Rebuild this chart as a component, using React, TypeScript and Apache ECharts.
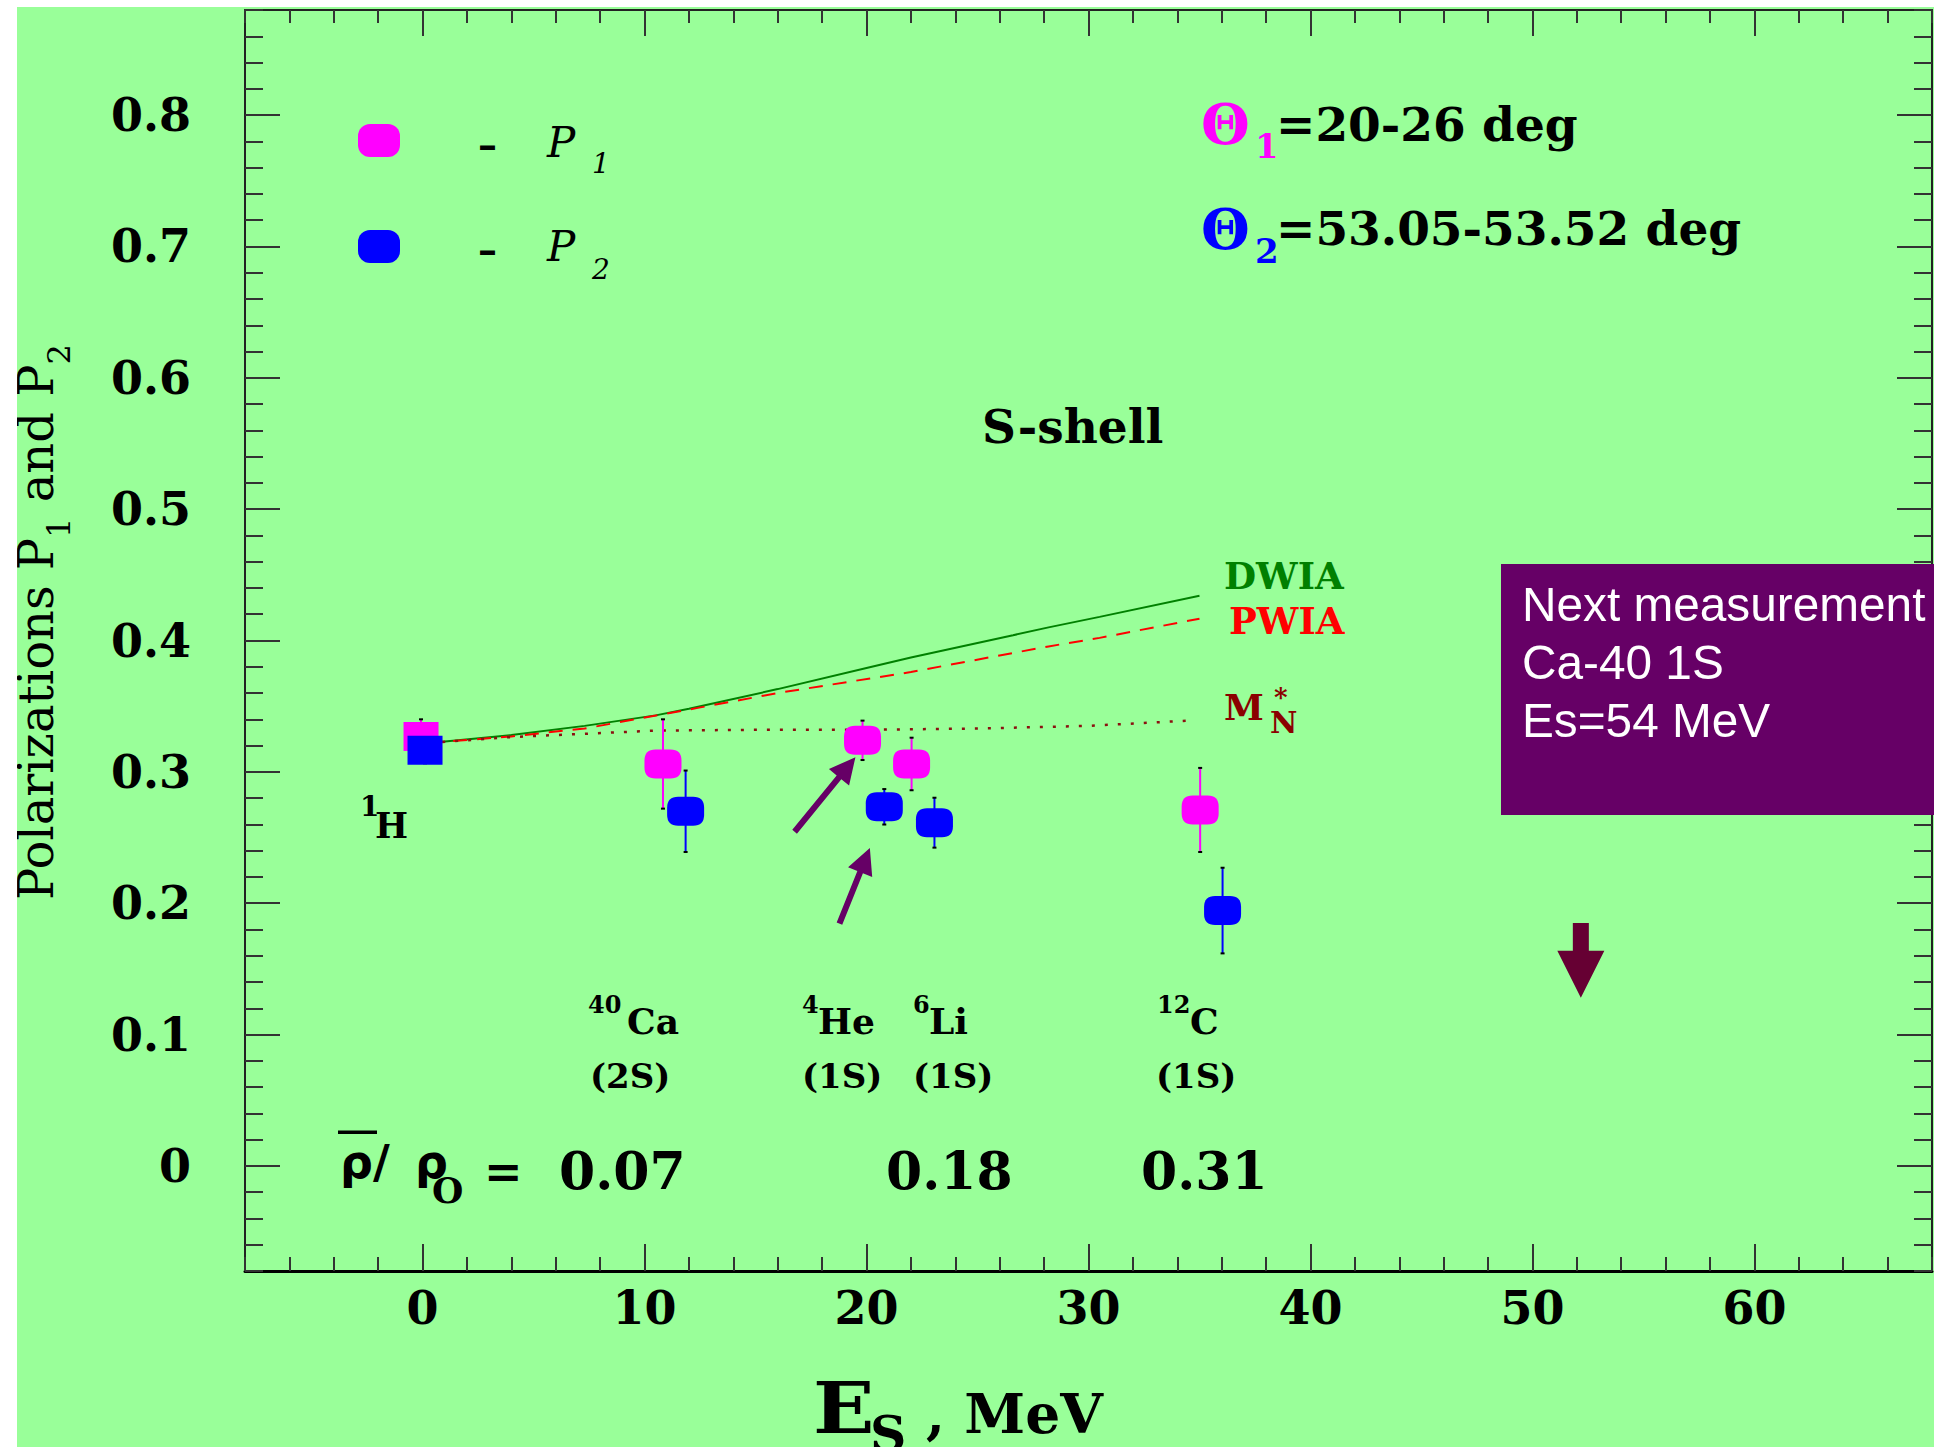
import React, { useEffect, useRef } from "react";
import * as echarts from "echarts";

// ---------- axis ranges and ticks ----------
const X_MIN = -8;
const X_MAX = 68;
const Y_MIN = -0.08;
const Y_MAX = 0.88;
const xMajorTicks = [0, 10, 20, 30, 40, 50, 60];
const yMajorTicks = [0, 0.1, 0.2, 0.3, 0.4, 0.5, 0.6, 0.7, 0.8];

// ---------- data: [Es, polarization, error] ----------
const hydrogenP1 = [[-0.07, 0.327, 0.013]];
const hydrogenP2 = [[0.11, 0.3165, 0.01]];
// 40Ca, 4He, 6Li, 12C
const nucleiP1 = [
  [10.83, 0.306, 0.034],
  [19.82, 0.324, 0.015],
  [22.03, 0.306, 0.02],
  [35.03, 0.271, 0.032],
];
const nucleiP2 = [
  [11.85, 0.27, 0.031],
  [20.8, 0.2734, 0.0135],
  [23.06, 0.2613, 0.019],
  [36.04, 0.1944, 0.0326],
];

// ---------- theory curves ----------
const dwia = [
  [0.3, 0.322], [4, 0.328], [7.3, 0.335], [10.5, 0.343], [12, 0.348], [16, 0.363],
  [20, 0.379], [22, 0.387], [26.6, 0.404], [28.2, 0.41], [30.5, 0.418], [35, 0.434],
];
const pwia = [
  [0.3, 0.322], [4, 0.327], [7.3, 0.333], [12.4, 0.3487], [16, 0.36], [22, 0.376],
  [26.6, 0.3905], [28.2, 0.3955], [30.5, 0.402], [35, 0.4166],
];
const mStar = [
  [0.3, 0.322], [4, 0.3265], [10.5, 0.3314], [15, 0.332], [20, 0.332], [25, 0.333],
  [30, 0.335], [34.5, 0.339],
];

// ---------- annotation arrows: [x1, y1, x2, y2] ----------
const arrowsToHe = [
  [16.76, 0.2544, 19.5, 0.3112],
  [18.78, 0.1845, 20.15, 0.242],
];
const nextMeasurementArrow = [[52.18, 0.185, 52.18, 0.128]];

// ---------- labels ----------
const nucleusMass = ["40", "4", "6", "12"];
const nucleusName = ["Ca", "He", "Li", "C"];
const nucleusShell = ["(2S)", "(1S)", "(1S)", "(1S)"];
const densityValues = ["0.07", "0.18", "0.31"];

const OX = 17;
const OY = 7;
const SERIF = '"DejaVu Serif"';

const PILL = "path://M11,0 H26 Q37,0 37,11 V18 Q37,29 26,29 H11 Q0,29 0,18 V11 Q0,0 11,0 Z";

function txt(text: string, x: number, y: number, font: string, fill = "#000", extra: any = {}) {
  return {
    type: "text",
    x: x - OX,
    y: y - OY,
    z: 20,
    silent: true,
    style: {
      text,
      font,
      fill,
      align: "left",
      verticalAlign: "middle",
      textAlign: "left",
      textVerticalAlign: "middle",
    },
    ...extra,
  };
}

function errorBarItem(color: string) {
  return (params: any, api: any) => {
    const x = api.value(0);
    const y = api.value(1);
    const e = api.value(2);
    const t = api.coord([x, y + e]);
    const b = api.coord([x, y - e]);
    return {
      type: "group",
      children: [
        { type: "line", shape: { x1: t[0], y1: t[1], x2: b[0], y2: b[1] }, style: { stroke: color, lineWidth: 2 } },
        { type: "line", shape: { x1: t[0] - 2, y1: t[1], x2: t[0] + 2, y2: t[1] }, style: { stroke: "#000", lineWidth: 2 } },
        { type: "line", shape: { x1: b[0] - 2, y1: b[1], x2: b[0] + 2, y2: b[1] }, style: { stroke: "#000", lineWidth: 2 } },
      ],
    };
  };
}

function arrowItem(color: string, shaftW: number, headW: number, headL: number) {
  return (params: any, api: any) => {
    const a = api.coord([api.value(0), api.value(1)]);
    const b = api.coord([api.value(2), api.value(3)]);
    const dx = b[0] - a[0];
    const dy = b[1] - a[1];
    const len = Math.hypot(dx, dy) || 1;
    const ux = dx / len;
    const uy = dy / len;
    const nx = -uy;
    const ny = ux;
    const bx = b[0] - ux * headL;
    const by = b[1] - uy * headL;
    const s = shaftW / 2;
    const h = headW / 2;
    const points = [
      [a[0] + nx * s, a[1] + ny * s],
      [bx + nx * s, by + ny * s],
      [bx + nx * h, by + ny * h],
      [b[0], b[1]],
      [bx - nx * h, by - ny * h],
      [bx - nx * s, by - ny * s],
      [a[0] - nx * s, a[1] - ny * s],
    ];
    return { type: "polygon", shape: { points }, style: { fill: color } };
  };
}

const GRID = { left: 245 - OX, top: 10 - OY, width: 1932 - 245, height: 1271 - 10 };
const TICK_COLOR = "#333";

function buildOption() {
  const majorLabelFont = { fontFamily: SERIF, fontWeight: "bold" as const, fontSize: 46, color: "#000" };

  const minorX = (pos: string, len: number, lineWidth: number) => ({
    gridIndex: 0, type: "value", position: pos, min: X_MIN, max: X_MAX, interval: 2,
    axisLine: { show: true, onZero: false, lineStyle: { color: pos === "bottom" ? "#000" : "#222", width: lineWidth } },
    axisTick: { show: true, inside: true, length: len, lineStyle: { color: TICK_COLOR, width: 2 } },
    axisLabel: { show: false }, splitLine: { show: false },
  });
  const minorY = (pos: string) => ({
    gridIndex: 0, type: "value", position: pos, min: Y_MIN, max: Y_MAX, interval: 0.02,
    axisLine: { show: true, onZero: false, lineStyle: { color: "#222", width: 2 } },
    axisTick: { show: true, inside: true, length: 18, lineStyle: { color: TICK_COLOR, width: 2 } },
    axisLabel: { show: false }, splitLine: { show: false },
  });

  const xAxes = [
    minorX("bottom", 14, 3),
    minorX("top", 13, 2),
    {
      gridIndex: 1, type: "value", position: "bottom", min: X_MIN, max: X_MAX,
      axisLine: { show: false, onZero: false },
      axisTick: { show: true, inside: true, length: 27, customValues: xMajorTicks, lineStyle: { color: TICK_COLOR, width: 2 } },
      axisLabel: { show: true, customValues: xMajorTicks, margin: 14, ...majorLabelFont, formatter: (v: number) => String(v) },
      splitLine: { show: false },
    },
    {
      gridIndex: 1, type: "value", position: "top", min: X_MIN, max: X_MAX,
      axisLine: { show: false, onZero: false },
      axisTick: { show: true, inside: true, length: 26, customValues: xMajorTicks, lineStyle: { color: TICK_COLOR, width: 2 } },
      axisLabel: { show: false }, splitLine: { show: false },
    },
  ];

  const yAxes = [
    minorY("left"),
    minorY("right"),
    {
      gridIndex: 1, type: "value", position: "left", min: Y_MIN, max: Y_MAX,
      axisLine: { show: false, onZero: false },
      axisTick: { show: true, inside: true, length: 35, customValues: yMajorTicks, lineStyle: { color: TICK_COLOR, width: 2 } },
      axisLabel: {
        show: true, customValues: yMajorTicks, margin: 54, ...majorLabelFont,
        formatter: (v: number) => (Math.abs(v) < 1e-9 ? "0" : (+v).toFixed(1)),
      },
      splitLine: { show: false },
    },
    {
      gridIndex: 1, type: "value", position: "right", min: Y_MIN, max: Y_MAX,
      axisLine: { show: false, onZero: false },
      axisTick: { show: true, inside: true, length: 35, customValues: yMajorTicks, lineStyle: { color: TICK_COLOR, width: 2 } },
      axisLabel: { show: false }, splitLine: { show: false },
    },
  ];

  const bold = (size: number) => `bold ${size}px ${SERIF}`;

  // nucleus label anchors (pixel layout of annotation texts)
  const massX = [588, 802, 913, 1157];
  const nameX = [627, 818, 929, 1190];
  const shellX = [590, 802, 913, 1156];
  const densX = [559, 886, 1141];

  const elements: any[] = [];

  // Y axis title
  elements.push({
    type: "text",
    x: 36 - OX,
    y: 622 - OY,
    rotation: Math.PI / 2,
    z: 20,
    silent: true,
    style: {
      text: "{m|Polarizations P}{s|1}{m| and P}{s|2}",
      align: "center",
      verticalAlign: "middle",
      textAlign: "center",
      textVerticalAlign: "middle",
      fill: "#000",
      rich: {
        m: { fontFamily: SERIF, fontSize: 48, lineHeight: 78, fill: "#000", color: "#000" },
        s: { fontFamily: SERIF, fontSize: 32, lineHeight: 30, verticalAlign: "bottom", fill: "#000", color: "#000" },
      },
    },
  });

  // X axis title
  elements.push(txt("E", 813, 1408, bold(72), "#000", { scaleX: 1.12 }));
  elements.push(txt("S", 870, 1434, bold(48), "#000", { scaleX: 1.05 }));
  elements.push(txt(", MeV", 926, 1413, bold(55)));

  // Legend (in-plot)
  elements.push({ type: "rect", x: 358 - OX, y: 124 - OY, z: 20, silent: true, shape: { width: 42, height: 33, r: 12 }, style: { fill: "#ff00ff" } });
  elements.push({ type: "rect", x: 358 - OX, y: 230 - OY, z: 20, silent: true, shape: { width: 42, height: 33, r: 12 }, style: { fill: "#0000ff" } });
  elements.push(txt("\u2013", 478, 144, bold(38)));
  elements.push(txt("\u2013", 478, 249, bold(38)));
  elements.push(txt("P", 547, 142, `italic 42px ${SERIF}`));
  elements.push(txt("1", 592, 163, `italic 28px ${SERIF}`));
  elements.push(txt("P", 547, 246, `italic 42px ${SERIF}`));
  elements.push(txt("2", 592, 269, `italic 28px ${SERIF}`));

  // Angles
  elements.push(txt("\u0398", 1201, 124, bold(56), "#ff00ff"));
  elements.push(txt("1", 1255, 146, bold(34), "#ff00ff"));
  elements.push(txt("=20-26 deg", 1276, 124, bold(47)));
  elements.push(txt("\u0398", 1201, 228.5, bold(56), "#0000ff"));
  elements.push(txt("2", 1255, 251, bold(34), "#0000ff"));
  elements.push(txt("=53.05-53.52 deg", 1276, 228.5, bold(47)));

  // S-shell
  elements.push(txt("S-shell", 982, 426, bold(47)));

  // Curve labels
  elements.push(txt("DWIA", 1224, 575.5, bold(37), "#008000"));
  elements.push(txt("PWIA", 1229, 621, bold(37), "#ff0000"));
  elements.push(txt("M", 1224, 707, bold(36), "#8b0000"));
  elements.push(txt("*", 1274, 697, bold(26), "#8b0000"));
  elements.push(txt("N", 1270, 722.5, bold(30), "#8b0000"));

  // 1H label
  elements.push(txt("1", 360, 806.7, bold(28)));
  elements.push(txt("H", 375, 825.5, bold(35)));

  // nucleus labels
  for (let i = 0; i < nucleusName.length; i++) {
    elements.push(txt(nucleusMass[i], massX[i], 1004, bold(24)));
    elements.push(txt(nucleusName[i], nameX[i], 1021, bold(36)));
    elements.push(txt(nucleusShell[i], shellX[i], 1075.5, bold(34)));
  }

  // density row
  elements.push({ type: "rect", x: 338 - OX, y: 1130.5 - OY, z: 20, silent: true, shape: { width: 39, height: 3.5 }, style: { fill: "#000" } });
  elements.push(txt("\u03c1/", 340, 1162, 'bold 46px "DejaVu Sans"'));
  elements.push(txt("\u03c1", 415, 1162, 'bold 46px "DejaVu Sans"'));
  elements.push(txt("O", 432, 1190, bold(36)));
  elements.push(txt("=", 484, 1172, 'bold 46px "DejaVu Sans"'));
  for (let i = 0; i < densityValues.length; i++) {
    elements.push(txt(densityValues[i], densX[i], 1170, bold(52)));
  }

  // Next measurement box
  elements.push({ type: "rect", x: 1501 - OX, y: 564 - OY, z: 19, silent: true, shape: { width: 433, height: 251 }, style: { fill: "#660066" } });
  const boxFont = '49px "Liberation Sans"';
  elements.push(txt("Next measurement", 1522, 604, boxFont, "#fff", { scaleX: 0.975 }));
  elements.push(txt("Ca-40 1S", 1522, 662, boxFont, "#fff", { scaleX: 0.975 }));
  elements.push(txt("Es=54 MeV", 1522, 720, boxFont, "#fff", { scaleX: 0.975 }));

  return {
    animation: false,
    backgroundColor: "#99ff99",
    grid: [
      { ...GRID, outerBoundsMode: "none", containLabel: false },
      { ...GRID, outerBoundsMode: "none", containLabel: false },
    ],
    xAxis: xAxes,
    yAxis: yAxes,
    graphic: { elements },
    series: [
      { type: "line", data: dwia, symbol: "none", silent: true, z: 2, lineStyle: { color: "#008000", width: 2 } },
      { type: "line", data: pwia, symbol: "none", silent: true, z: 2, lineStyle: { color: "#ff0000", width: 2, type: [14, 10] } },
      { type: "line", data: mStar, symbol: "none", silent: true, z: 2, lineStyle: { color: "#8b1010", width: 2.5, type: [3, 10] } },
      {
        type: "custom", data: hydrogenP1.concat(nucleiP1), renderItem: errorBarItem("#ff00ff"),
        encode: { x: 0, y: 1 }, silent: true, z: 3,
      },
      {
        type: "custom", data: hydrogenP2.concat(nucleiP2), renderItem: errorBarItem("#0000ff"),
        encode: { x: 0, y: 1 }, silent: true, z: 3,
      },
      {
        type: "scatter", data: hydrogenP1.map((d) => [d[0], d[1]]), symbol: "rect", symbolSize: [35, 29],
        itemStyle: { color: "#ff00ff", opacity: 1 }, silent: true, z: 5,
      },
      {
        type: "scatter", data: hydrogenP2.map((d) => [d[0], d[1]]), symbol: "rect", symbolSize: [35, 29],
        itemStyle: { color: "#0000ff", opacity: 1 }, silent: true, z: 6,
      },
      {
        type: "scatter", data: nucleiP1.map((d) => [d[0], d[1]]), symbol: PILL, symbolSize: [37, 29],
        itemStyle: { color: "#ff00ff", opacity: 1 }, silent: true, z: 5,
      },
      {
        type: "scatter", data: nucleiP2.map((d) => [d[0], d[1]]), symbol: PILL, symbolSize: [37, 29],
        itemStyle: { color: "#0000ff", opacity: 1 }, silent: true, z: 5,
      },
      {
        type: "custom", data: arrowsToHe, renderItem: arrowItem("#660066", 6, 26, 26),
        encode: { x: [0, 2], y: [1, 3] }, silent: true, z: 7,
      },
      {
        type: "custom", data: nextMeasurementArrow, renderItem: arrowItem("#660033", 16, 47, 47),
        encode: { x: [0, 2], y: [1, 3] }, silent: true, z: 7,
      },
    ],
  };
}

export default function App() {
  const ref = useRef<HTMLDivElement>(null);
  useEffect(() => {
    if (!ref.current) return;
    const chart = echarts.init(ref.current, undefined, { renderer: "svg" });
    chart.setOption(buildOption() as any);
    return () => chart.dispose();
  }, []);
  return (
    <div style={{ position: "absolute", left: 0, top: 0, width: 1934, height: 1447, background: "#fff", overflow: "hidden" }}>
      <div ref={ref} style={{ position: "absolute", left: OX, top: OY, width: 1934 - OX, height: 1447 - OY }} />
    </div>
  );
}
